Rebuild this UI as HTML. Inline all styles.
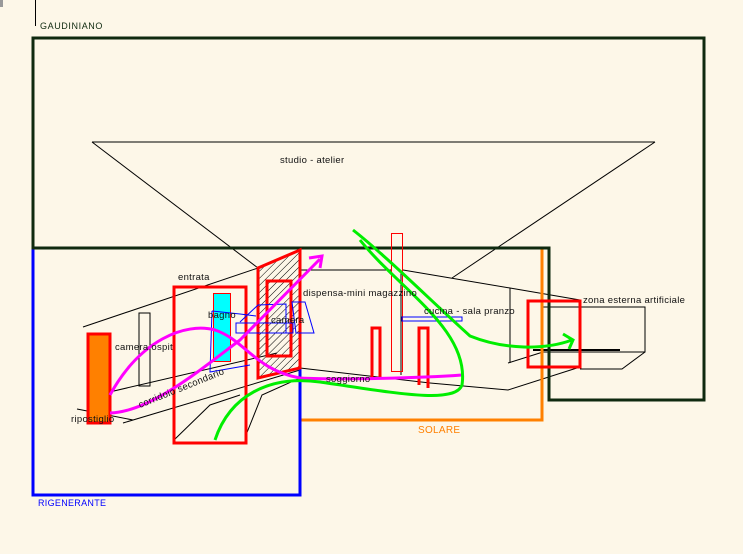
<!DOCTYPE html>
<html><head><meta charset="utf-8"><style>
html,body{margin:0;padding:0;background:#fdf7e8;}
svg{display:block;font-family:"Liberation Sans",sans-serif;}
text{font-size:9.5px;fill:#111;letter-spacing:0.3px;}
</style></head><body>
<svg width="743" height="554" viewBox="0 0 743 554" xmlns="http://www.w3.org/2000/svg">
<defs>
<pattern id="h" width="5" height="5" patternUnits="userSpaceOnUse" patternTransform="rotate(45)">
<line x1="0" y1="0" x2="0" y2="5" stroke="#000" stroke-width="1"/></pattern>
</defs>
<rect width="743" height="554" fill="#fdf7e8"/>
<rect x="0" y="0" width="3" height="7" fill="#999"/>
<line x1="35.5" y1="0" x2="35.5" y2="26" stroke="#000"/>
<text x="40" y="29" style="fill:#0f2a0f;font-size:9px;letter-spacing:0.6px">GAUDINIANO</text>

<g stroke="#000" stroke-width="1" fill="none">
<line x1="92" y1="142" x2="655" y2="142"/>
<line x1="92" y1="142" x2="258" y2="268"/>
<line x1="655" y1="142" x2="452" y2="278"/>
<line x1="83" y1="327" x2="258" y2="268"/>
<line x1="88" y1="397" x2="277" y2="353"/>
<line x1="123" y1="423" x2="300" y2="370"/>
<line x1="77" y1="409" x2="133" y2="420"/>
<rect x="139" y="313" width="11" height="73"/>
<polyline points="300,270 392,270"/>
<polyline points="403,270 510,288 580,300"/>
<line x1="510" y1="288" x2="510" y2="363"/>
<line x1="508" y1="363" x2="543" y2="352"/>
<polyline points="430,383 508,390 580,367"/>
<rect x="542" y="307" width="103" height="45"/>
<polyline points="645,352 622,369 580,369"/>
<line x1="300" y1="368" x2="430" y2="383"/>
<polyline points="174,440 210,405 240,395"/>
<polyline points="246,435 262,395 300,378"/>
<line x1="401" y1="270" x2="401" y2="375"/>
<line x1="533" y1="350" x2="620" y2="350" stroke-width="2"/>
</g>
<text x="280" y="163">studio - atelier</text>

<polyline points="300,420 542,420 542,248" fill="none" stroke="#ff8000" stroke-width="3"/>
<text x="418" y="433" style="fill:#ff8000;font-size:10px">SOLARE</text>
<rect x="33" y="248" width="267" height="247" fill="none" stroke="#0000ff" stroke-width="3"/>
<text x="38" y="506" style="fill:#0000ff;font-size:9px">RIGENERANTE</text>
<polygon points="33,38 704,38 704,400 549,400 549,248 33,248" fill="none" stroke="#0f2a0f" stroke-width="3"/>

<rect x="88" y="334" width="22" height="89" fill="#ff8000" stroke="#ff0000" stroke-width="3"/>
<rect x="213.5" y="293.5" width="17" height="68" fill="#00ffff" stroke="#ff0000" stroke-width="1"/>
<polygon points="258,268 300,250 300,368 258,378" fill="url(#h)" stroke="#ff0000" stroke-width="3"/>
<rect x="267" y="281" width="24" height="75" fill="none" stroke="#ff0000" stroke-width="3"/>
<rect x="174" y="287" width="72" height="156" fill="none" stroke="#ff0000" stroke-width="3"/>
<rect x="391.5" y="233.5" width="11" height="138" fill="none" stroke="#ff0000" stroke-width="1"/>
<polyline points="372,378 372,328 380,328 380,378" fill="none" stroke="#ff0000" stroke-width="3"/>
<polyline points="419,385 419,328 428,328 428,388" fill="none" stroke="#ff0000" stroke-width="3"/>
<rect x="528" y="301" width="52" height="66" fill="none" stroke="#ff0000" stroke-width="3"/>

<g stroke="#0000ff" stroke-width="1" fill="none">
<polyline points="212,311 240,314 256,316"/>
<polyline points="212,311 210,372 250,365"/>
<rect x="236" y="323" width="57" height="10"/>
<polygon points="292,302 305,302 314,333 296,333"/>
<polyline points="240,322 258,305 286,304 286,333"/>
<rect x="402" y="317" width="60" height="4"/>
</g>

<g stroke="#ff00ff" stroke-width="3" fill="none">
<path d="M110,413 C150,412 200,370 240,340 L320,259"/>
<polyline points="309,258 322,256 320,268"/>
<path d="M110,395 C140,340 185,322 215,330 C245,340 255,370 300,378 C340,380 420,378 462,375"/>
</g>
<g stroke="#00ee00" stroke-width="3" fill="none">
<path d="M353,230 C385,255 430,300 470,336 C505,350 545,350 572,340"/>
<polyline points="563,334 573,340 569,349"/>
<path d="M360,240 C400,290 470,330 462,385 C455,405 390,392 320,382 C270,375 230,395 215,440"/>
</g>

<text x="178" y="280">entrata</text>
<text x="303" y="296">dispensa-mini magazzino</text>
<text x="424" y="314">cucina - sala pranzo</text>
<text x="583" y="303">zona esterna artificiale</text>
<text x="115" y="350">camera ospit</text>
<text x="208" y="318">bagno</text>
<text x="271" y="323">camera</text>
<text x="326" y="382">soggiorno</text>
<text x="71" y="422">ripostiglio</text>
<text x="140" y="408" transform="rotate(-22 140 408)">corridoio secondario</text>
</svg>
</body></html>
